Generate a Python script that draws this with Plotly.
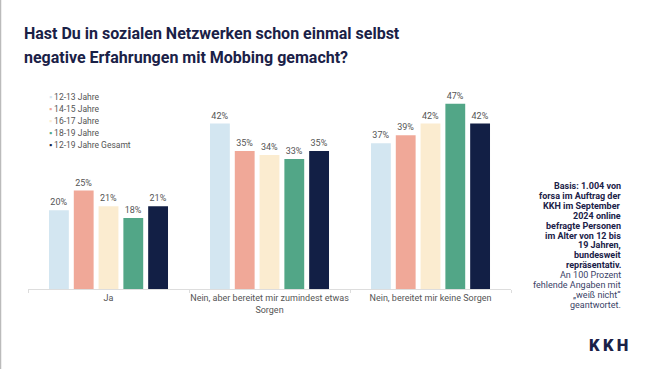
import plotly.graph_objects as go

categories = ["Ja", "Nein, aber bereitet mir zumindest etwas<br>Sorgen", "Nein, bereitet mir keine Sorgen"]
series_names = ["12-13 Jahre", "14-15 Jahre", "16-17 Jahre", "18-19 Jahre", "12-19 Jahre Gesamt"]
v_12_13 = [20, 42, 37]
v_14_15 = [25, 35, 39]
v_16_17 = [21, 34, 42]
v_18_19 = [18, 33, 47]
v_gesamt = [21, 35, 42]
values = [v_12_13, v_14_15, v_16_17, v_18_19, v_gesamt]
colors = ["#d3e6f1", "#f0a898", "#fbecd0", "#52a687", "#121f45"]

title_lines = ["Hast Du in sozialen Netzwerken schon einmal selbst",
               "negative Erfahrungen mit Mobbing gemacht?"]
note_bold = ["Basis: 1.004 von", "forsa im Auftrag der", "KKH im September", "2024 online",
             "befragte Personen", "im Alter von 12 bis", "19 Jahren,", "bundesweit",
             "repräsentativ."]
note_normal = ["An 100 Prozent", "fehlende Angaben mit", "„weiß nicht“", "geantwortet."]

W, H = 650, 369
L, R, T, B = 28, 139, 92, 80
PW, PH = W - L - R, H - T - B


def px(x):
    return (x - L) / PW


def py(y):
    return 1 - (y - T) / PH


fig = go.Figure()
for name, vals, col in zip(series_names, values, colors):
    fig.add_trace(go.Bar(
        x=categories, y=vals, name=name,
        marker=dict(color=col, line=dict(width=0)),
        text=[f"{v}%" for v in vals], textposition="outside",
        textfont=dict(size=9, color="#555555", family="Roboto"),
        cliponaxis=False, showlegend=False, hoverinfo="skip",
    ))

navy = "#1a2147"
fig.update_layout(
    width=W, height=H,
    margin=dict(l=L, r=R, t=T, b=B, autoexpand=False),
    paper_bgcolor="white", plot_bgcolor="white",
    barmode="group", bargap=0.23, bargroupgap=0.2,
    font=dict(family="Roboto", color="#555555"),
    showlegend=False,
    xaxis=dict(showline=True, linecolor="#dddddd", linewidth=1,
               ticks="outside", tickson="boundaries", ticklen=3, tickcolor="#dddddd",
               tickangle=0, automargin=False,
               tickfont=dict(size=9, color="#555555"), showgrid=False),
    yaxis=dict(range=[0, 50], visible=False, showgrid=False, automargin=False),
)

# legend entries
for i, (name, col) in enumerate(zip(series_names, colors)):
    fig.add_annotation(
        xref="paper", yref="paper", x=px(47), y=py(97 + 12 * i),
        xanchor="left", yanchor="middle", showarrow=False, align="left",
        text=f'<span style="color:{col}">▪</span> {name}',
        font=dict(size=8.5, color="#555555", family="Roboto"),
    )

for i, line in enumerate(title_lines):
    fig.add_annotation(
        xref="paper", yref="paper", x=px(22), y=py(33 + 24 * i),
        xanchor="left", yanchor="middle", align="left", showarrow=False,
        text=f"<b>{line}</b>",
        font=dict(size=16, color=navy, family="Roboto"),
    )

for i, line in enumerate(note_bold + note_normal):
    bold = i < len(note_bold)
    fig.add_annotation(
        xref="paper", yref="paper", x=px(623), y=py(186 + 9.9 * i),
        xanchor="right", yanchor="middle", align="right", showarrow=False,
        text=f"<b>{line}</b>" if bold else line,
        font=dict(size=9, color=navy if bold else "#3a4266", family="Roboto"),
    )

fig.add_annotation(
    xref="paper", yref="paper", x=px(608), y=py(345),
    xanchor="center", yanchor="middle", showarrow=False,
    text="K\u2009K\u2009H", font=dict(size=16.5, color=navy, family="Roboto", weight=900),
)

fig.add_shape(type="line", xref="paper", yref="paper",
              x0=px(0.5), x1=px(0.5), y0=py(H), y1=py(0),
              line=dict(color="#bbbbbb", width=1.5))

fig.write_html("out.html", config={"displayModeBar": False},
               post_script="document.body.style.margin='0';")
